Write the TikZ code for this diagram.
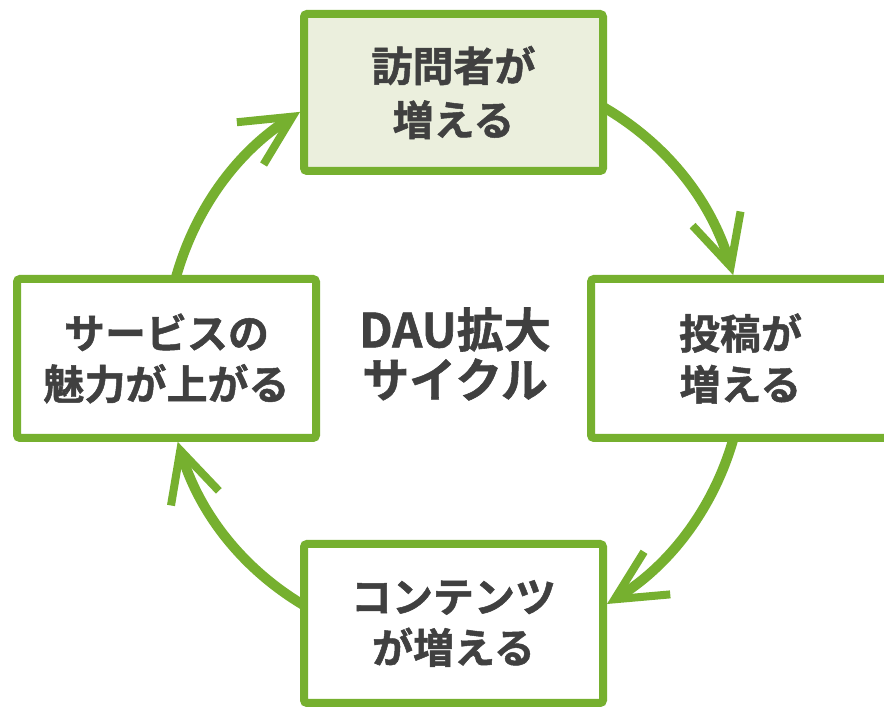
\documentclass[tikz,border=0pt]{standalone}
\usepackage{fontspec}
\setmainfont{Noto Sans CJK JP}[BoldFont={Noto Sans CJK JP Bold}, BoldFeatures={FakeBold=1.2}]
\usetikzlibrary{arrows.meta}
\definecolor{cycgreen}{HTML}{76B02F}
\definecolor{topfill}{HTML}{EBEFDD}
\definecolor{txtgray}{HTML}{404040}
\tikzset{
  stepbox/.style={draw=cycgreen, line width=8pt, fill=white, rounded corners=3pt,
    minimum width=299pt, minimum height=159pt, inner sep=0pt, align=center,
    text=txtgray, font=\fontsize{41}{51}\selectfont\bfseries},
  cyc/.style={draw=cycgreen, line width=10pt,
    -{Straight Barb[length=50pt, width=50pt, line width=8pt, line cap=butt]}},
  centertext/.style={align=center, text=txtgray, inner sep=0pt,
    font=\fontsize{47}{50}\selectfont\bfseries}
}
\begin{document}
\begin{tikzpicture}[x=1pt,y=1pt]
\useasboundingbox (0,0) rectangle (884,707);
\clip (0,0) rectangle (884,707);
\fill[white] (0,0) rectangle (884,707);
\coordinate (ctr) at (455,350);
% arcs of the cycle
\draw[cyc] (ctr) ++(180:290) arc[start angle=180, end angle=122.3, radius=290];
\draw[cyc] (ctr) ++(90:290) arc[start angle=90, end angle=16.4, radius=290];
\draw[cyc] (ctr) ++(0:290) arc[start angle=0, end angle=-58.4, radius=290];
\draw[cyc] (ctr) ++(-90:290) arc[start angle=-90, end angle=-163, radius=290];
% boxes
\node[stepbox, fill=topfill, minimum height=157pt, font=\fontsize{41}{54}\selectfont\bfseries] (visit) at (453.5,614.5) {訪問者が\\増える};
\node[stepbox] (post) at (740.5,348.5) {投稿が\\増える};
\node[stepbox] (content) at (453.5,83.5) {コンテンツ\\が増える};
\node[stepbox] (charm) at (166.5,348.5) {サービスの\\魅力が上がる};
\node[centertext] (dau) at (455,353) {DAU拡大\\サイクル};
\end{tikzpicture}
\end{document}
